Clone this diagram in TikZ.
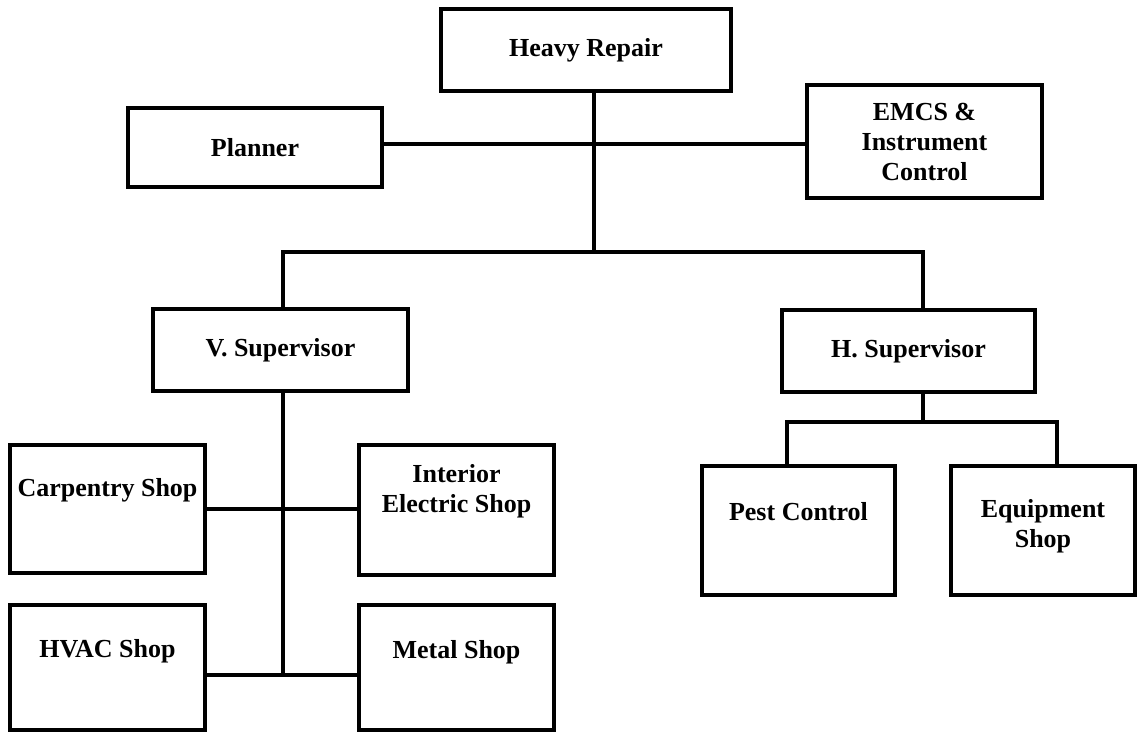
\documentclass[tikz,border=0pt]{standalone}
\usepackage{fontspec}
\setmainfont{Liberation Serif}
\usetikzlibrary{positioning}

\tikzset{
  unit/.style={draw, line width=3.6pt, inner sep=0pt, align=center,
    font=\fontsize{26}{30}\selectfont\bfseries},
  tag/.style={inner sep=0pt, align=center,
    font=\fontsize{26}{30}\selectfont\bfseries},
  wire/.style={line width=3.2pt}
}

\begin{document}
\begin{tikzpicture}[x=1pt, y=-1pt]
    \useasboundingbox (0,0) rectangle (1137,732);
    % top level
    \node[unit, minimum width=290pt, minimum height=82pt] (repair) at (586,50) {Heavy Repair};
    \node[unit, minimum width=254pt, minimum height=79pt] (planner) at (255,147.5) {Planner};
    \node[unit, minimum width=235pt, minimum height=113pt] (emcs) at (924.5,141.5) {EMCS \&\\Instrument\\Control};
    % supervisors
    \node[unit, minimum width=255pt, minimum height=82pt] (vsup) at (280.5,350) {V. Supervisor};
    \node[unit, minimum width=253pt, minimum height=82pt] (hsup) at (908.5,351) {H. Supervisor};
    % shops
    \node[unit, minimum width=195pt, minimum height=128pt] (carp) at (107.5,509) {};
    \node[unit, minimum width=195pt, minimum height=130pt] (inter) at (456.5,510) {};
    \node[unit, minimum width=195pt, minimum height=125pt] (hvac) at (107.5,667.5) {};
    \node[unit, minimum width=195pt, minimum height=125pt] (metal) at (456.5,667.5) {};
    \node[unit, minimum width=193pt, minimum height=129pt] (pest) at (798.5,530.5) {};
    \node[unit, minimum width=184pt, minimum height=129pt] (equip) at (1043,530.5) {};
    % shop labels
    \node[tag] (carp-t) at ([yshift=-47pt]carp.north) {Carpentry Shop};
    \node[tag] (inter-t) at ([yshift=-48pt]inter.north) {Interior\\Electric Shop};
    \node[tag] (hvac-t) at ([yshift=-48pt]hvac.north) {HVAC Shop};
    \node[tag] (metal-t) at ([yshift=-49pt]metal.north) {Metal Shop};
    \node[tag] (pest-t) at ([yshift=-47pt]pest.north) {Pest Control};
    \node[tag] (equip-t) at ([yshift=-62pt]equip.north) {Equipment\\Shop};
    % junctions
    \coordinate (mid) at (594,144);
    \coordinate (hub) at (594,252);
    \coordinate (hjoin) at (923,252);
    \coordinate (vfoot) at (283,675);
    \coordinate (hfork) at (923,422);
    \coordinate (pfork) at (787,422);
    \coordinate (efork) at (1057,422);
    % lines
    \draw[wire] (repair.south -| hub) -- (hub);
    \draw[wire] (planner.east |- mid) -- (emcs.west |- mid);
    \draw[wire] (vsup.north -| vfoot) |- (hjoin) -- (hsup.north -| hjoin);
    \draw[wire] (vsup.south -| vfoot) -- (vfoot);
    \draw[wire] (carp.east) -- (carp.east -| inter.west);
    \draw[wire] (hvac.east |- vfoot) -- (metal.west |- vfoot);
    \draw[wire] (hsup.south -| hfork) -- (hfork);
    \draw[wire] (pest.north -| pfork) -- (pfork) -- (efork) -- (equip.north -| efork);
\end{tikzpicture}
\end{document}
